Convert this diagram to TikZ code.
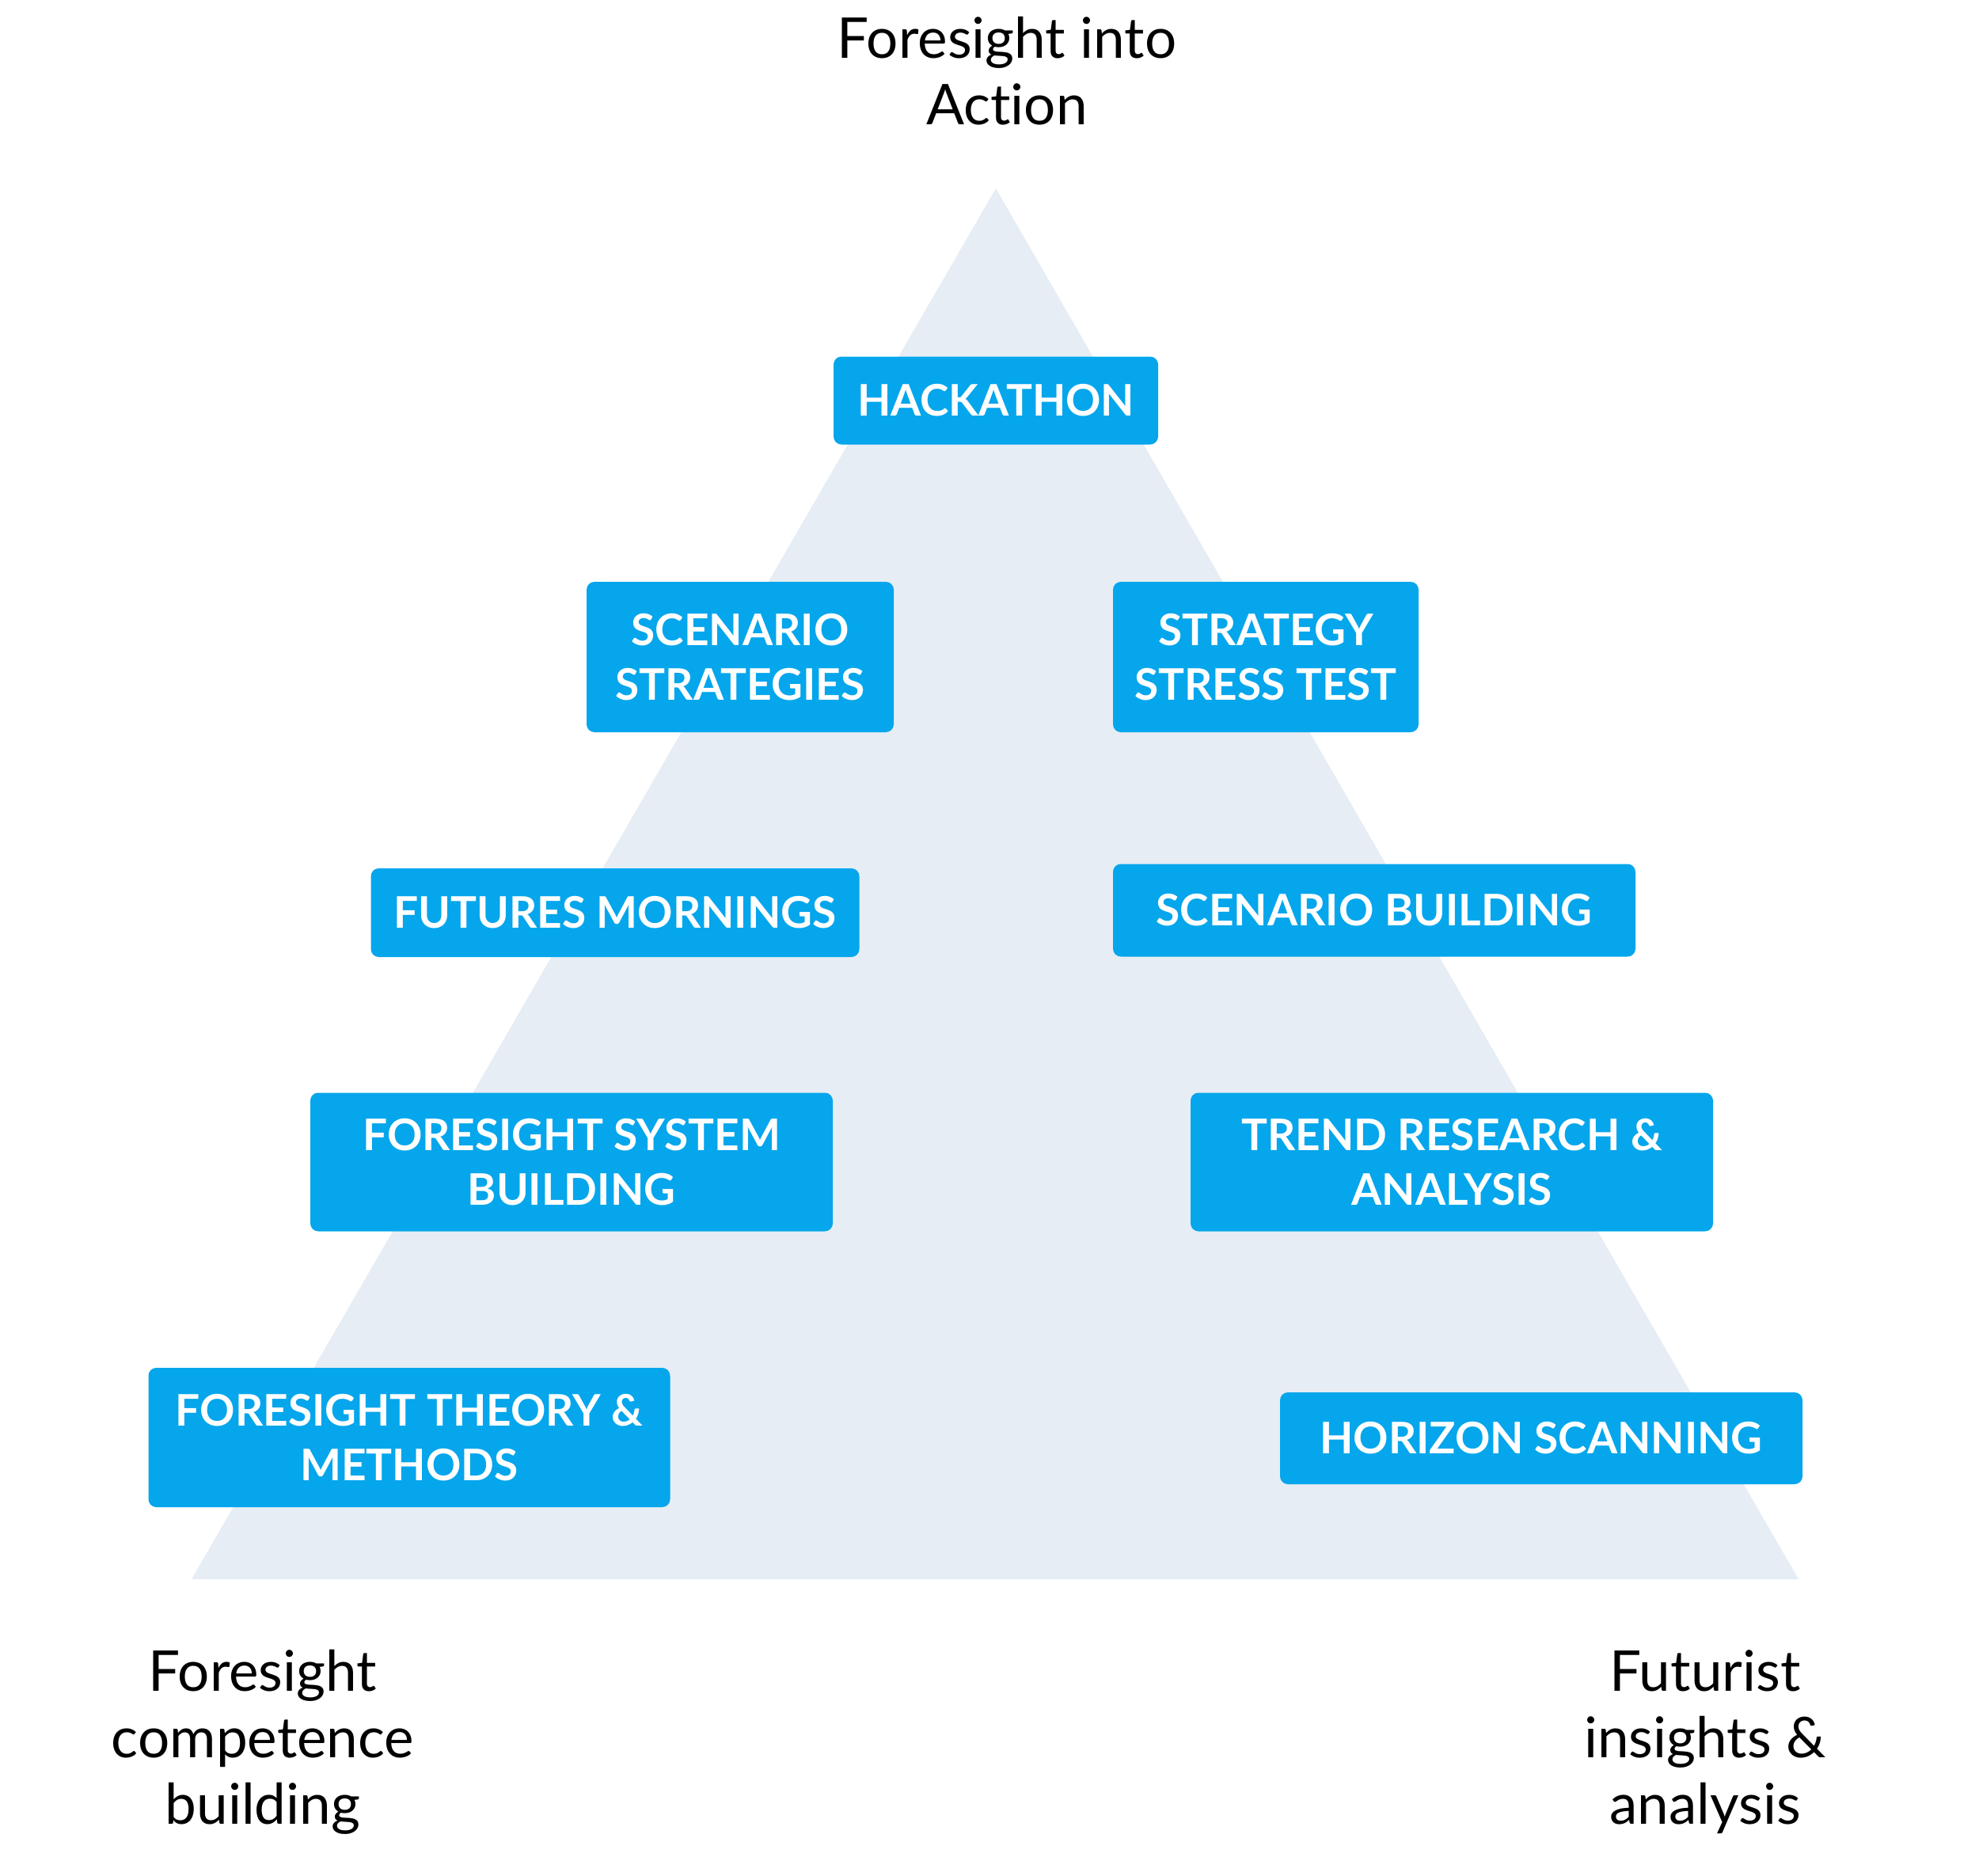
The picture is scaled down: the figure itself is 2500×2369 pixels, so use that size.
\documentclass[tikz,border=0pt]{standalone}
\usepackage{fontspec}
\setmainfont{Lato}[Ligatures={NoCommon,NoRequired,NoContextual}]
\definecolor{boxblue}{RGB}{5,166,236}
\definecolor{trifill}{RGB}{230,237,244}
\begin{document}
\begin{tikzpicture}[x=1pt,y=-1pt,
  stepbox/.style={fill=boxblue, rounded corners=10pt, text=white,
    font=\fontsize{55}{69}\selectfont\bfseries, align=center, inner sep=0pt},
  lbl/.style={font=\fontsize{71}{84}\selectfont, align=center, inner sep=0pt, anchor=north}]
\useasboundingbox (0,0) rectangle (2500,2369);
\coordinate (apex) at (1258,238);
\coordinate (bl) at (242,1995);
\coordinate (br) at (2272,1995);
\fill[trifill] (apex) -- (br) -- (bl) -- cycle;

\node[stepbox, minimum width=410pt, minimum height=111pt] (hack) at (1258,506) {HACKATHON};
\node[stepbox, minimum width=388pt, minimum height=190pt] (scstrat) at (935,830) {SCENARIO\\STRATEGIES};
\node[stepbox, minimum width=386pt, minimum height=190pt] (stress) at (1599,830) {STRATEGY\\STRESS TEST};
\node[stepbox, minimum width=617pt, minimum height=112pt] (morn) at (777,1153) {FUTURES MORNINGS};
\node[stepbox, minimum width=660pt, minimum height=117pt] (scbuild) at (1736,1150) {SCENARIO BUILDING};
\node[stepbox, minimum width=660pt, minimum height=175pt] (sysb) at (722,1468) {FORESIGHT SYSTEM\\BUILDING};
\node[stepbox, minimum width=660pt, minimum height=175pt] (trend) at (1834,1468) {TREND RESEARCH \&\\ANALYSIS};
\node[stepbox, minimum width=659pt, minimum height=176pt] (theory) at (517,1816) {FORESIGHT THEORY \&\\METHODS};
\node[stepbox, minimum width=660pt, minimum height=116pt] (horizon) at (1947,1817) {HORIZON SCANNING};

\node[lbl] (toplbl) at (1272,21) {Foresight into\\Act\kern0pt ion};
\node[lbl] (leftlbl) at (332,2084) {Foresight\\competence\\building};
\node[lbl] (rightlbl) at (2154,2084) {Futurist\\insights \&\\analysis};
\end{tikzpicture}
\end{document}
